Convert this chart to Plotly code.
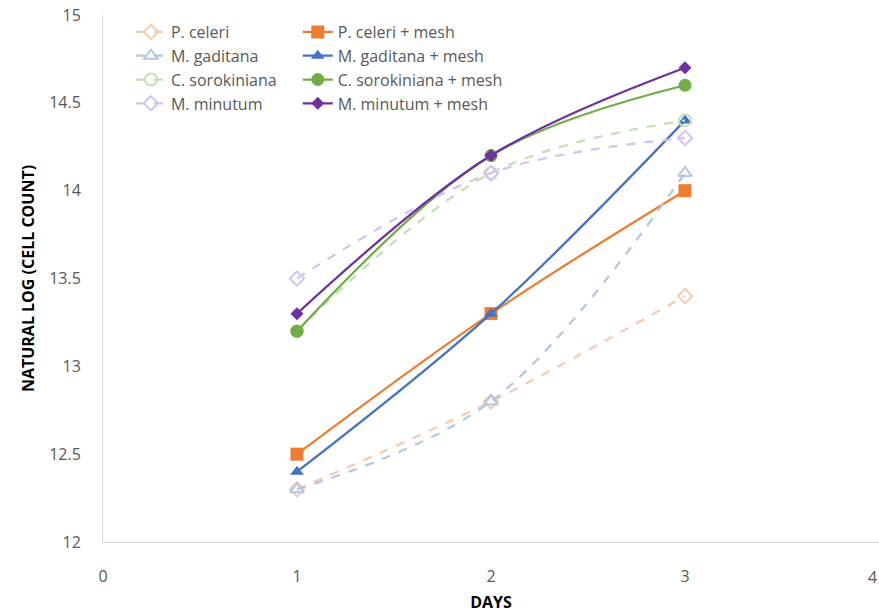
import plotly.graph_objects as go

days = [1, 2, 3]
series_names = [
    "P. celeri", "P. celeri + mesh",
    "M. gaditana", "M. gaditana + mesh",
    "C. sorokiniana", "C. sorokiniana + mesh",
    "M. minutum", "M. minutum + mesh",
]
p_celeri = [12.3, 12.8, 13.4]
p_celeri_mesh = [12.5, 13.3, 14.0]
m_gaditana = [12.3, 12.8, 14.1]
m_gaditana_mesh = [12.4, 13.3, 14.4]
c_soro = [13.2, 14.1, 14.4]
c_soro_mesh = [13.2, 14.2, 14.6]
m_minutum = [13.5, 14.1, 14.3]
m_minutum_mesh = [13.3, 14.2, 14.7]
x_ticks = [0, 1, 2, 3, 4]

values = [p_celeri, p_celeri_mesh, m_gaditana, m_gaditana_mesh,
          c_soro, c_soro_mesh, m_minutum, m_minutum_mesh]
colors = ["#F8CBAD", "#ED7D31", "#B4C7E7", "#4472C4",
          "#C5E0B4", "#70AD47", "#D4C2F5", "#7030A0"]
symbols = ["diamond-open", "square", "triangle-up-open", "triangle-up",
           "circle-open", "circle", "diamond-open", "diamond"]
sizes = [11, 13, 12, 12, 12, 13, 11, 10]
dashed = [True, False, True, False, True, False, True, False]

fig = go.Figure()
for name, vals, col, sym, sz, d in zip(series_names, values, colors, symbols, sizes, dashed):
    fig.add_trace(go.Scatter(
        x=days, y=vals, name=name, mode="lines+markers",
        legend="legend" if d else "legend2",
        line=dict(color=col, width=2.25, shape="spline", dash="dash" if d else "solid"),
        marker=dict(symbol=sym, size=sz, color=col,
                    line=dict(color=col, width=2 if d else 0)),
    ))

leg_font = dict(family="Open Sans", size=16, color="#595959")
fig.update_layout(
    width=879, height=613,
    margin=dict(l=103, r=0, t=15, b=71),
    plot_bgcolor="white", paper_bgcolor="white",
    font=dict(family="Open Sans", size=16, color="#595959"),
    showlegend=True,
    legend=dict(x=0.036, y=1.0, xanchor="left", yanchor="top",
                font=leg_font, bgcolor="rgba(0,0,0,0)", tracegroupgap=0),
    legend2=dict(x=0.251, y=1.0, xanchor="left", yanchor="top",
                 font=leg_font, bgcolor="rgba(0,0,0,0)", tracegroupgap=0),
    xaxis=dict(
        range=[0, 4], tickvals=x_ticks, showgrid=False, zeroline=False,
        showline=True, linecolor="#D9D9D9", linewidth=1, ticks="",
        ticklabelstandoff=20,
        title=dict(text="<b>DAYS</b>", font=dict(family="Open Sans", size=16, color="#000000"), standoff=16),
    ),
    yaxis=dict(
        range=[12, 15], dtick=0.5, showgrid=False, zeroline=False,
        showline=True, linecolor="#D9D9D9", linewidth=1, ticks="",
        tickformat="~g", ticklabelstandoff=18,
        title=dict(text="<b>NATURAL LOG (CELL COUNT)</b>", font=dict(family="Open Sans", size=16, color="#000000"), standoff=10),
    ),
)
# last tick label at the right edge (plotly drops it), kept inside the page
fig.add_annotation(
    x=x_ticks[-1], xref="x", xanchor="right", y=0, yref="paper", yanchor="top", yshift=-22,
    text=str(x_ticks[-1]), showarrow=False,
    font=dict(family="Open Sans", size=16, color="#595959"),
)

fig.write_html("out.html")
